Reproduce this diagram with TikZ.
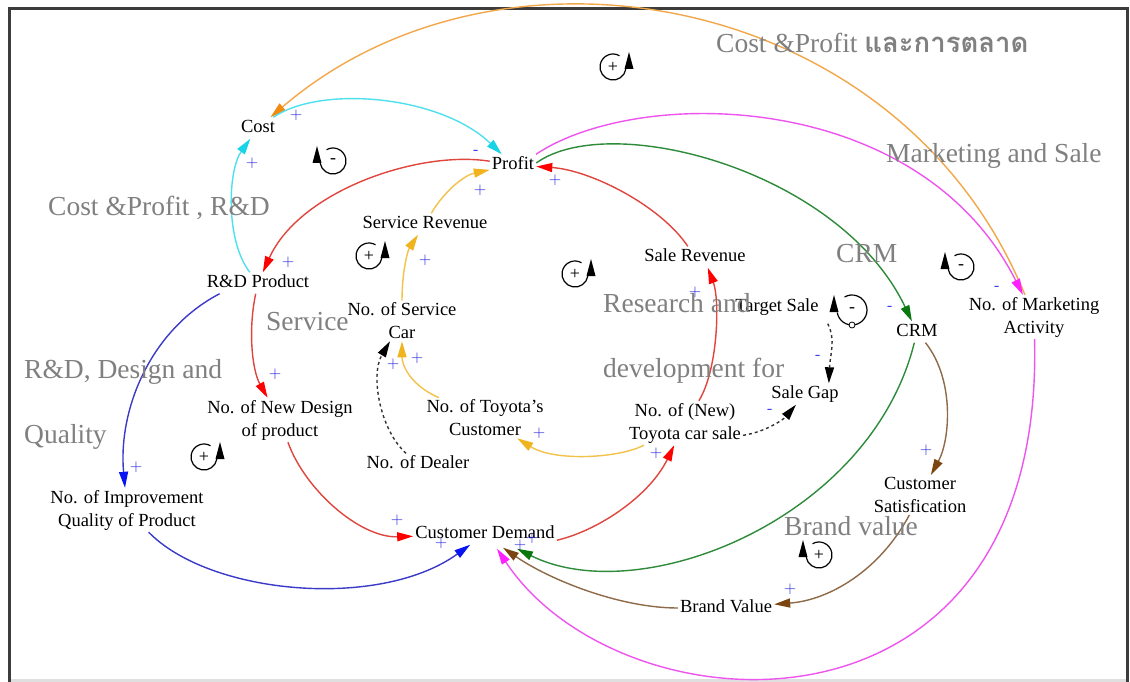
\documentclass[tikz,border=0pt]{standalone}
\usepackage{fontspec}
\setmainfont{Liberation Serif}
\newfontfamily\thaifont[Script=Thai]{Loma}
\usetikzlibrary{arrows.meta}

% line and head colours
\definecolor{orL}{HTML}{F2A84A}\definecolor{orH}{HTML}{F08A10}
\definecolor{cyL}{HTML}{4FE0EE}\definecolor{cyH}{HTML}{19D3E6}
\definecolor{rdL}{HTML}{E0453E}\definecolor{rdH}{HTML}{FF0000}
\definecolor{ylL}{HTML}{F2C24A}\definecolor{ylH}{HTML}{F0B41E}
\definecolor{mgL}{HTML}{EE55EE}\definecolor{mgH}{HTML}{FF20FF}
\definecolor{gnL}{HTML}{2E8B3A}\definecolor{gnH}{HTML}{08780F}
\definecolor{blL}{HTML}{3B3BC8}\definecolor{blH}{HTML}{0A14F0}
\definecolor{brL}{HTML}{8E6A48}\definecolor{brH}{HTML}{7A4510}
\definecolor{dashgray}{HTML}{333333}
\definecolor{notegray}{HTML}{808080}
\definecolor{polblue}{HTML}{1E1EE0}
\definecolor{framegray}{HTML}{3C3C3C}

% loop marker, arrowhead on the left
\newcommand{\cldloopL}[4][13]{%
  \begin{scope}[shift={(#2,#3)}, y=1pt]
    \draw[line width=1.2pt] (190:#1) arc[start angle=190, end angle=480, radius=#1];
    \fill ({-#1-7.5},-2) -- ({-#1+1.5},-2) -- ({-#1-3},15) -- cycle;
    \node[font=\fontsize{18}{18}\selectfont, inner sep=0pt] at (0,0) {#4};
  \end{scope}}
% loop marker, arrowhead on the right
\newcommand{\cldloopR}[4][13]{%
  \begin{scope}[shift={(#2,#3)}, y=1pt]
    \draw[line width=1.2pt] (-10:#1) arc[start angle=-10, end angle=-300, radius=#1];
    \fill ({#1+7.5},-2) -- ({#1-1.5},-2) -- ({#1+3},15) -- cycle;
    \node[font=\fontsize{18}{18}\selectfont, inner sep=0pt] at (0,0) {#4};
  \end{scope}}

\begin{document}
\begin{tikzpicture}[x=1pt,y=-1pt]
\tikzset{
  var/.style={font=\fontsize{18.5}{23}\selectfont, align=center, inner sep=2pt, text height=13pt, text depth=4pt},
  var2/.style={font=\fontsize{18.5}{23}\selectfont, align=center, inner sep=2pt},
  note/.style={font=\fontsize{27.5}{30}\selectfont, text=notegray, inner sep=0pt, anchor=base west},
  pol/.style={font=\fontsize{17}{17}\selectfont\sffamily, text=polblue, inner sep=0pt},
  lnk/.style n args={2}{line width=1.4pt, draw=#1, -{Triangle[length=16pt,width=9pt,color=#2]}},
  dsh/.style={line width=1.4pt, draw=dashgray, dash pattern=on 3pt off 3pt, -{Triangle[length=16pt,width=9pt,color=black]}},
}
\useasboundingbox (0,0) rectangle (1130,682);
\fill[white] (0,0) rectangle (1130,682);

% frame
\draw[line width=3pt, gray!25] (11,680.5) -- (1126,680.5);
\draw[line width=3pt, framegray] (9.5,682) -- (9.5,8.5) -- (1127.8,8.5) -- (1127.8,682);

% variables
\node[var] (cost) at (258,128) {Cost};
\node[var] (profit) at (513,165) {Profit};
\node[var] (servrev) at (425,224) {Service Revenue};
\node[var] (salerev) at (695,257) {Sale Revenue};
\node[var] (rd) at (258,283) {R\&D Product};
\node[var2] (servcar) at (402,321) {No. of Service\\Car};
\node[var] (target) at (777,307) {Target Sale};
\node[var] (crm) at (917,332) {CRM};
\node[var2] (mkt) at (1034,317) {No. of Marketing\\Activity};
\node[var2] (newdes) at (280,420) {No. of New Design\\of product};
\node[var2] (toycust) at (485,418) {No. of Toyota's\\Customer};
\node[var2] (toysale) at (685,423) {No. of (New)\\Toyota car sale};
\node[var] (salegap) at (805,394) {Sale Gap};
\node[var] (dealer) at (418,464) {No. of Dealer};
\node[var2] (improv) at (127,510) {No. of Improvement\\Quality of Product};
\node[var2] (custsat) at (920,495) {Customer\\Satisfication};
\node[var] (custdem) at (485,534) {Customer Demand};
\node[var] (brandval) at (726,608) {Brand Value};

% links
\draw[lnk={orL}{orH}] (mkt) .. controls (900,-10) and (500,-80) .. (cost);
\draw[lnk={cyL}{cyH}] (cost) .. controls (320,85) and (440,95) .. (profit);
\draw[lnk={cyL}{cyH}] (rd) .. controls (225,240) and (228,170) .. (cost);
\draw[lnk={rdL}{rdH}] (profit) .. controls (420,150) and (300,190) .. (rd);
\draw[lnk={mgL}{mgH}] (profit.25) .. controls (640,85) and (920,90) .. (mkt);
\draw[lnk={gnL}{gnH}] (profit.5) .. controls (610,110) and (840,170) .. (crm);
\draw[lnk={rdL}{rdH}] (salerev) .. controls (660,205) and (590,170) .. (profit);
\draw[lnk={ylL}{ylH}] (servrev) .. controls (445,190) and (465,175) .. (profit);
\draw[lnk={ylL}{ylH}] (servcar) .. controls (402,270) and (408,250) .. (servrev);
\draw[lnk={ylL}{ylH}] (toycust) .. controls (410,385) and (402,365) .. (servcar);
\draw[dsh] (dealer) .. controls (380,430) and (370,375) .. (servcar);
\draw[lnk={rdL}{rdH}] (toysale) .. controls (718,370) and (720,300) .. (salerev.-40);
\draw[lnk={ylL}{ylH}] (toysale) .. controls (620,458) and (555,462) .. (toycust);
\draw[dsh] (toysale.-12) .. controls (765,432) and (783,420) .. (salegap);
\draw[dsh] ([xshift=7pt,yshift=-6pt]target.south east) .. controls (836,340) and (830,355) .. ([xshift=-12pt]salegap.north east);
\draw[lnk={rdL}{rdH}] (rd) .. controls (248,330) and (252,370) .. (newdes);
\draw[lnk={blL}{blH}] ([xshift=15pt]rd.south west) .. controls (150,330) and (118,410) .. (improv);
\draw[lnk={rdL}{rdH}] (newdes) .. controls (305,490) and (360,538) .. (custdem);
\draw[lnk={blL}{blH}] (improv) .. controls (210,595) and (380,610) .. (custdem);
\draw[lnk={rdL}{rdH}] (custdem.-5) .. controls (600,530) and (650,495) .. (toysale);
\draw[lnk={gnL}{gnH}] (crm) .. controls (870,520) and (640,610) .. ([xshift=32pt,yshift=-4pt]custdem.south);
\draw[lnk={mgL}{mgH}] (mkt) .. controls (1045,760) and (620,735) .. ([xshift=12pt,yshift=-4pt]custdem.south);
\draw[lnk={brL}{brH}] (crm) .. controls (955,380) and (950,440) .. (custsat);
\draw[lnk={brL}{brH}] (custsat) .. controls (880,570) and (830,600) .. (brandval);
\draw[lnk={brL}{brH}] (brandval) .. controls (620,608) and (550,580) .. ([xshift=18pt,yshift=-3pt]custdem.south);

% polarities
\node[pol] (p1) at (296,115) {+};
\node[pol] (p2) at (252,163) {+};
\node[pol] (p3) at (476,152) {-};
\node[pol] (p4) at (288,262) {+};
\node[pol] (p5) at (480,190) {+};
\node[pol] (p6) at (555,180) {+};
\node[pol] (p7) at (425,260) {+};
\node[pol] (p8) at (393,364) {+};
\node[pol] (p9) at (417,358) {+};
\node[pol] (p10) at (275,374) {+};
\node[pol] (p11) at (136,467) {+};
\node[pol] (p12) at (695,292) {+};
\node[pol] (p13) at (539,433) {+};
\node[pol] (p14) at (656,453) {+};
\node[pol] (p15) at (770,411) {-};
\node[pol] (p16) at (818,357) {-};
\node[pol] (p17) at (890,308) {-};
\node[pol] (p18) at (997,288) {-};
\node[pol] (p19) at (926,450) {+};
\node[pol] (p20) at (790,589) {+};
\node[pol] (p21) at (397,520) {+};
\node[pol] (p22) at (441,543) {+};
\node[pol] (p23) at (520,545) {+};
\node[pol] (p24) at (532,538) {+};

% loop markers
\cldloopR{613}{67}{+}
\cldloopL{333}{161}{-}
\cldloopR{369}{256}{+}
\cldloopR{575}{274}{+}
\cldloopL[15]{852}{310}{-}
\draw[fill=white, line width=0.8pt] (852,325) circle (3);
\cldloopL{961}{267}{-}
\cldloopR{204}{457}{+}
\cldloopL{819}{555}{+}

% loop titles
\node[note] (t1) at (716,53) {Cost \&Profit {\thaifont\bfseries และการตลาด}};
\node[note] (t2) at (886,163) {Marketing and Sale};
\node[note] (t3) at (48,215) {Cost \&Profit , R\&D};
\node[note] (t4) at (836,262) {CRM};
\node[note] (t5) at (266,330) {Service};
\node[note] (t6) at (603,312) {Research and};
\node[note] (t7) at (24,378) {R\&D, Design and};
\node[note] (t8) at (603,377) {development for};
\node[note] (t9) at (24,443) {Quality};
\node[note] (t10) at (784,535) {Brand value};
\end{tikzpicture}
\end{document}
